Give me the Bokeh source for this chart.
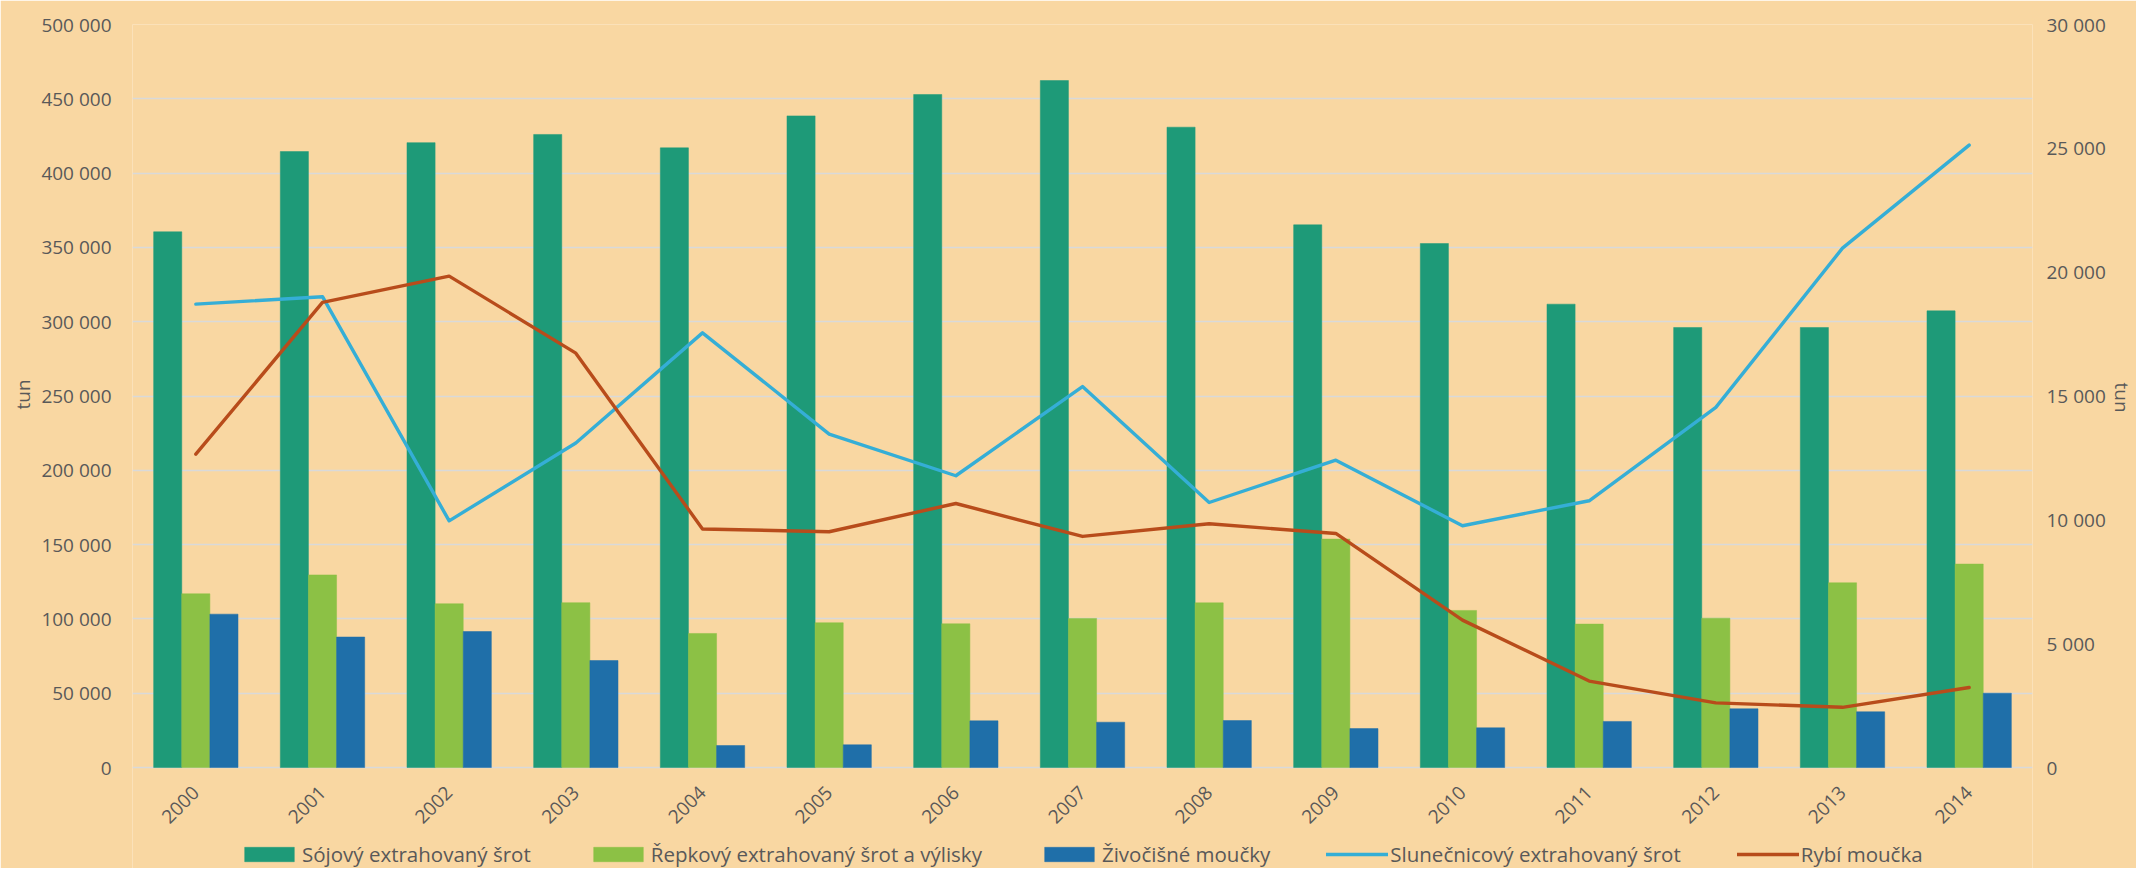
import math
from bokeh.plotting import figure
from bokeh.models import (Range1d, LinearAxis, FixedTicker, Legend, LegendItem,
                          FactorRange, ColumnDataSource, Title)
from bokeh.transform import dodge
from bokeh.embed import file_html
from bokeh.resources import INLINE

# ---------------- data ----------------
years = ["2000", "2001", "2002", "2003", "2004", "2005", "2006", "2007",
         "2008", "2009", "2010", "2011", "2012", "2013", "2014"]

soy = [360500, 414500, 420500, 426000, 417000, 438500, 452900, 462300,
       430900, 365200, 352600, 311800, 296100, 296100, 307300]
rape = [116900, 129600, 110200, 110900, 90200, 97400, 96700, 100300,
        110800, 153700, 105700, 96500, 100500, 124300, 136900]
animal = [103200, 87800, 91500, 72000, 14800, 15300, 31400, 30500,
          31600, 26200, 26700, 31000, 39500, 37500, 50000]
sunflower = [18710, 19010, 9960, 13100, 17550, 13460, 11780, 15380,
             10700, 12410, 9760, 10770, 14540, 20970, 25130]
fish = [12650, 18780, 19840, 16730, 9630, 9520, 10660, 9330,
        9840, 9450, 5950, 3490, 2610, 2430, 3230]

series_names = ["Sójový extrahovaný šrot", "Řepkový extrahovaný šrot a výlisky",
                "Živočišné moučky", "Slunečnicový extrahovaný šrot", "Rybí moučka"]

left_ticks = [0, 50000, 100000, 150000, 200000, 250000, 300000, 350000,
              400000, 450000, 500000]
left_labels = ["0", "50 000", "100 000", "150 000", "200 000", "250 000",
               "300 000", "350 000", "400 000", "450 000", "500 000"]
right_ticks = [0, 5000, 10000, 15000, 20000, 25000, 30000]
right_labels = ["0", "5 000", "10 000", "15 000", "20 000", "25 000", "30 000"]
axis_title = "tun"
LEFT_MAX = 500000
RIGHT_MAX = 30000

# ---------------- style / layout ----------------
BG = "#F9D7A2"
TXT = "#595959"
GRID = "#D9D9D9"
C_SOY = "#1E9A78"
C_RAPE = "#8CC145"
C_ANIM = "#1F6FA9"
C_SUN = "#35AED6"
C_FISH = "#B84C1B"
FONT = "Open Sans"
FS = "19px"

W, H = 2136, 868
TOP = 24          # canvas y of the top gridline
ZERO = 767        # canvas y of the zero line
PLOT_H = ZERO - TOP
below = H - ZERO  # room under the zero line, kept inside the frame

src = ColumnDataSource(dict(year=years, soy=soy, rape=rape, animal=animal,
                            sunflower=sunflower, fish=fish))

p = figure(x_range=FactorRange(*years),
           y_range=Range1d(-below * LEFT_MAX / PLOT_H, LEFT_MAX),
           width=W, height=H, output_backend="svg", toolbar_location=None,
           min_border_left=132, min_border_right=99, min_border_top=TOP,
           min_border_bottom=0)
p.background_fill_color = BG
p.border_fill_color = BG
p.outline_line_color = None

p.extra_y_ranges = {"right": Range1d(-below * RIGHT_MAX / PLOT_H, RIGHT_MAX)}

bw = 0.222
r1 = p.vbar(x=dodge("year", -bw, range=p.x_range), top="soy", width=bw, source=src,
            fill_color=C_SOY, line_color=C_SOY, line_width=0.5)
r2 = p.vbar(x=dodge("year", 0.0, range=p.x_range), top="rape", width=bw, source=src,
            fill_color=C_RAPE, line_color=C_RAPE, line_width=0.5)
r3 = p.vbar(x=dodge("year", bw, range=p.x_range), top="animal", width=bw, source=src,
            fill_color=C_ANIM, line_color=C_ANIM, line_width=0.5)
r4 = p.line(x="year", y="sunflower", source=src, y_range_name="right",
            line_color=C_SUN, line_width=3.4, line_cap="round", line_join="round")
r5 = p.line(x="year", y="fish", source=src, y_range_name="right",
            line_color=C_FISH, line_width=3.4, line_cap="round", line_join="round")

# left axis
yax = p.yaxis[0]
yax.ticker = FixedTicker(ticks=left_ticks)
yax.major_label_overrides = {t: l for t, l in zip(left_ticks, left_labels)}
p.ygrid.ticker = FixedTicker(ticks=left_ticks)

# right axis
rax = LinearAxis(y_range_name="right", ticker=FixedTicker(ticks=right_ticks))
rax.major_label_overrides = {t: l for t, l in zip(right_ticks, right_labels)}
p.add_layout(rax, "right")

for ax in [yax, rax]:
    ax.axis_line_color = None
    ax.major_tick_line_color = None
    ax.minor_tick_line_color = None
    ax.major_tick_out = 0
    ax.major_tick_in = 0
    ax.major_label_text_font = FONT
    ax.major_label_text_font_size = FS
    ax.major_label_text_color = TXT
yax.major_label_standoff = 21
rax.major_label_standoff = 14

# axis titles ("tun") as side titles so they can sit at the reference height
t_left = Title(text=axis_title, align="left", offset=H - 409, standoff=6,
               text_font=FONT, text_font_size=FS, text_font_style="normal",
               text_color=TXT)
p.add_layout(t_left, "left")
t_right = Title(text=axis_title, align="left", offset=382 - TOP, standoff=0,
                text_font=FONT, text_font_size=FS, text_font_style="normal",
                text_color=TXT)
p.add_layout(t_right, "right")

# x axis drawn at the zero line, inside the frame
xax = p.xaxis[0]
xax.fixed_location = 0
xax.axis_line_color = None
xax.major_tick_line_color = None
xax.minor_tick_line_color = None
xax.major_tick_out = 0
xax.major_tick_in = 0
xax.major_label_orientation = math.pi / 4
xax.major_label_text_font = FONT
xax.major_label_text_font_size = FS
xax.major_label_text_color = TXT
xax.major_label_standoff = 22

p.xgrid.grid_line_color = None
p.ygrid.grid_line_color = GRID
p.ygrid.grid_line_width = 1.5

legend = Legend(items=[LegendItem(label=series_names[0], renderers=[r1]),
                       LegendItem(label=series_names[1], renderers=[r2]),
                       LegendItem(label=series_names[2], renderers=[r3]),
                       LegendItem(label=series_names[3], renderers=[r4]),
                       LegendItem(label=series_names[4], renderers=[r5])],
                orientation="horizontal", location=(106, 0),
                spacing=56, label_standoff=2, glyph_width=62, glyph_height=18,
                padding=0, margin=0, border_line_color=None,
                background_fill_alpha=0, label_text_font=FONT,
                label_text_font_size="20.5px", label_text_color=TXT)
p.add_layout(legend, "center")

open("out.html", "w").write(file_html(p, INLINE))
